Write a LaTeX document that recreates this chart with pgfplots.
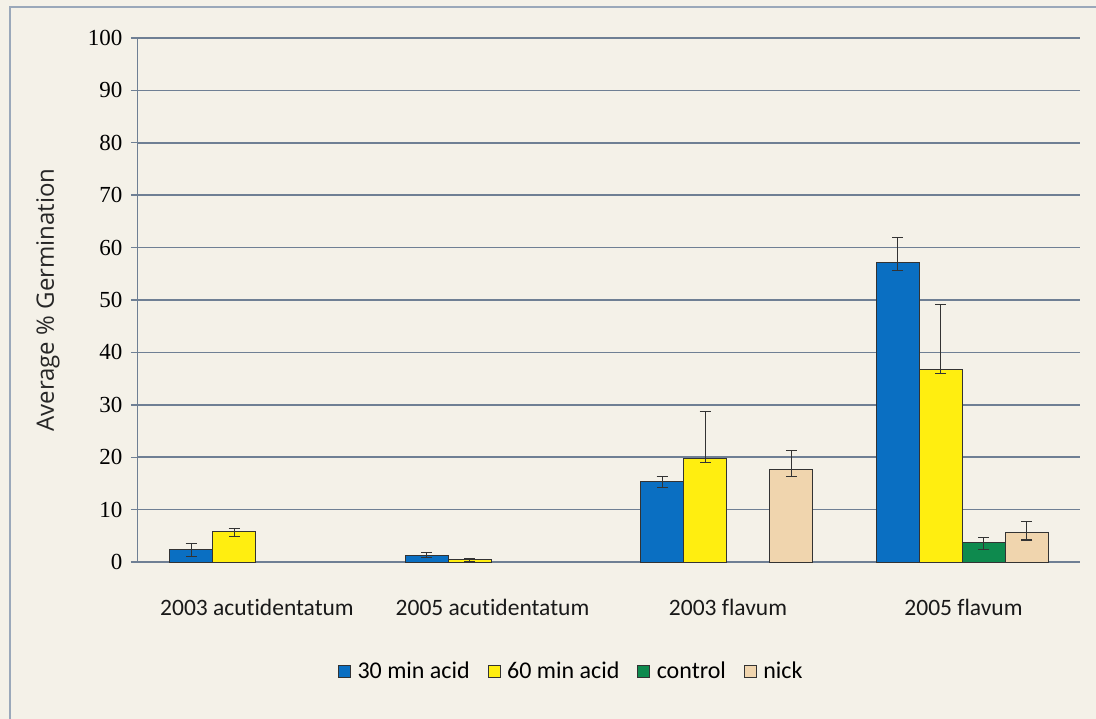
\documentclass[border=0pt]{standalone}
\usepackage{pgfplots}
\pgfplotsset{compat=1.18}
\usepackage{pgfplotstable}
\usepackage{fontspec}
\setmainfont{Carlito}[Ligatures=NoCommon]
\newfontfamily\tickfont{Liberation Serif}
\newfontfamily\labfont{Open Sans}

\definecolor{bgc}{HTML}{F4F1E8}
\definecolor{framec}{HTML}{9AA8BA}
\definecolor{gridc}{HTML}{6F7F94}
\definecolor{c30}{HTML}{0A6FC2}
\definecolor{c60}{HTML}{FFEE10}
\definecolor{ccon}{HTML}{0E8A4E}
\definecolor{cnick}{HTML}{F0D5AE}

% x  y  ep  em
\pgfplotstableread{
x y ep em
0 2.3 1.3 1.2
1 1.3 0.5 0.5
2 15.3 1.0 1.0
3 57.1 4.8 1.4
}\thirty
\pgfplotstableread{
x y ep em
0 5.8 0.6 1.0
1 0.4 0.3 0.3
2 19.8 8.9 0.8
3 36.8 12.3 0.9
}\sixty
\pgfplotstableread{
x y ep em
3 3.7 0.9 1.4
}\control
\pgfplotstableread{
x y ep em
2 17.6 3.6 1.3
3 5.6 2.2 1.4
}\nick

\begin{document}
\begin{tikzpicture}
\path[use as bounding box, fill=bgc] (-138bp,-157bp) rectangle (958bp,562bp);
\draw[framec, line width=1.5bp] (-128bp,-170bp) -- (-128bp,555bp) -- (970bp,555bp);
\begin{axis}[
  at={(0,0)}, anchor=south west,
  scale only axis,
  width=942bp, height=524bp,
  xmin=-0.5, xmax=3.5,
  ymin=0, ymax=100,
  ytick={0,10,...,100},
  xtick={0,1,2,3},
  xticklabels={},
  axis x line=none,
  axis y line*=left,
  y axis line style={gridc, line width=1bp, -},
  ymajorgrids,
  grid style={gridc, line width=1.6bp},
  tick align=outside,
  major tick length=7bp,
  ytick style={gridc, line width=1.4bp},
  yticklabel style={font=\tickfont\fontsize{23bp}{26bp}\selectfont, text=black, xshift=-5bp},
  /pgf/number format/assume math mode=true,
  ylabel={Average \% Germination},
  every axis y label/.style={at={(axis description cs:-0.0955,0.5)}, rotate=90, anchor=center,
     font=\labfont\fontsize{24bp}{28bp}\selectfont, text=black!85},
  ybar=0pt,
  bar width=0.183,
  legend columns=4,
  legend style={at={(0.46,-0.208)}, anchor=center, draw=none, fill=none,
     font=\fontsize{24bp}{28bp}\selectfont,
     nodes={inner xsep=2bp},
     /tikz/every even column/.append style={column sep=16bp}},
  legend image code/.code={\draw[#1, draw=black!80, line width=0.8bp] (0bp,-6bp) rectangle (12bp,6bp);
     \path[draw=none, fill=none] (17bp,0bp);},
  every axis plot/.append style={draw=black!80, line width=0.9bp},
  error bars/y dir=both, error bars/y explicit,
  error bars/error bar style={black!80, line width=1.1bp},
  error bars/error mark options={rotate=90, black!80, line width=1.1bp, mark size=5.5bp},
]
\addplot[fill=c30, bar shift=-0.2745] table[x=x, y=y, y error plus=ep, y error minus=em] {\thirty};
\addplot[fill=c60, bar shift=-0.0915] table[x=x, y=y, y error plus=ep, y error minus=em] {\sixty};
\addplot[fill=ccon, bar shift=0.0915] table[x=x, y=y, y error plus=ep, y error minus=em] {\control};
\addplot[fill=cnick, bar shift=0.2745] table[x=x, y=y, y error plus=ep, y error minus=em] {\nick};
\legend{30 min acid, 60 min acid, control, nick}
\end{axis}
% category labels below the axis
\foreach \lab [count=\i from 0] in {2003 acutidentatum, 2005 acutidentatum, 2003 flavum, 2005 flavum}
  \node[font=\fontsize{23.5bp}{26bp}\selectfont, text=black!90] at (119bp+\i*235.5bp,-45bp) {\lab};
\end{tikzpicture}
\end{document}
